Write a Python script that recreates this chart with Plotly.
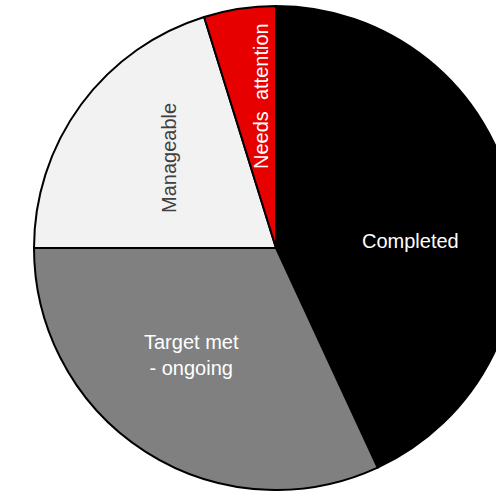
import plotly.graph_objects as go

# Status breakdown (percent of items)
categories = ["Completed", "Target met - ongoing", "Manageable", "Needs attention"]
shares = [43.1, 31.9, 20.2, 4.8]
slice_colors = ["#000000", "#808080", "#f2f2f2", "#e60000"]

# Slice labels: display text, text colour, rotation
label_texts = ["Completed", "Target met<br>- ongoing", "Manageable", "Needs  attention"]
label_colors = ["#ffffff", "#ffffff", "#404040", "#ffffff"]
label_angles = [0, 0, -90, -90]
# label centres in pixels (x, y from top-left)
label_px = [(410, 241), (191, 355), (169, 158), (261, 96)]

FONT = "Liberation Sans, Arial, sans-serif"
W, H = 552, 491
ML, MT, MB = 34, 6, 1
PLOT_W = W - 2 * ML
PLOT_H = H - MT - MB

fig = go.Figure(
    go.Pie(
        labels=categories,
        values=shares,
        sort=False,
        direction="clockwise",
        rotation=0,
        marker=dict(colors=slice_colors, line=dict(color="#000000", width=2)),
        textinfo="none",
        hoverinfo="label+percent",
        showlegend=False,
    )
)

annotations = []
for txt, col, ang, (px, py) in zip(label_texts, label_colors, label_angles, label_px):
    annotations.append(
        dict(
            text=txt,
            x=(px - ML) / PLOT_W,
            y=1 - (py - MT) / PLOT_H,
            xref="paper",
            yref="paper",
            xanchor="center",
            yanchor="middle",
            textangle=ang,
            showarrow=False,
            align="center",
            font=dict(family=FONT, size=20, color=col),
        )
    )

fig.update_layout(
    width=W,
    height=H,
    margin=dict(l=ML, r=ML, t=MT, b=MB, pad=0),
    paper_bgcolor="#ffffff",
    plot_bgcolor="#ffffff",
    annotations=annotations,
    font=dict(family=FONT),
)

fig.write_html(
    "out.html",
    post_script=(
        "document.documentElement.style.overflow='hidden';"
        "document.body.style.overflow='hidden';"
        "document.body.style.margin='0';"
    ),
)
